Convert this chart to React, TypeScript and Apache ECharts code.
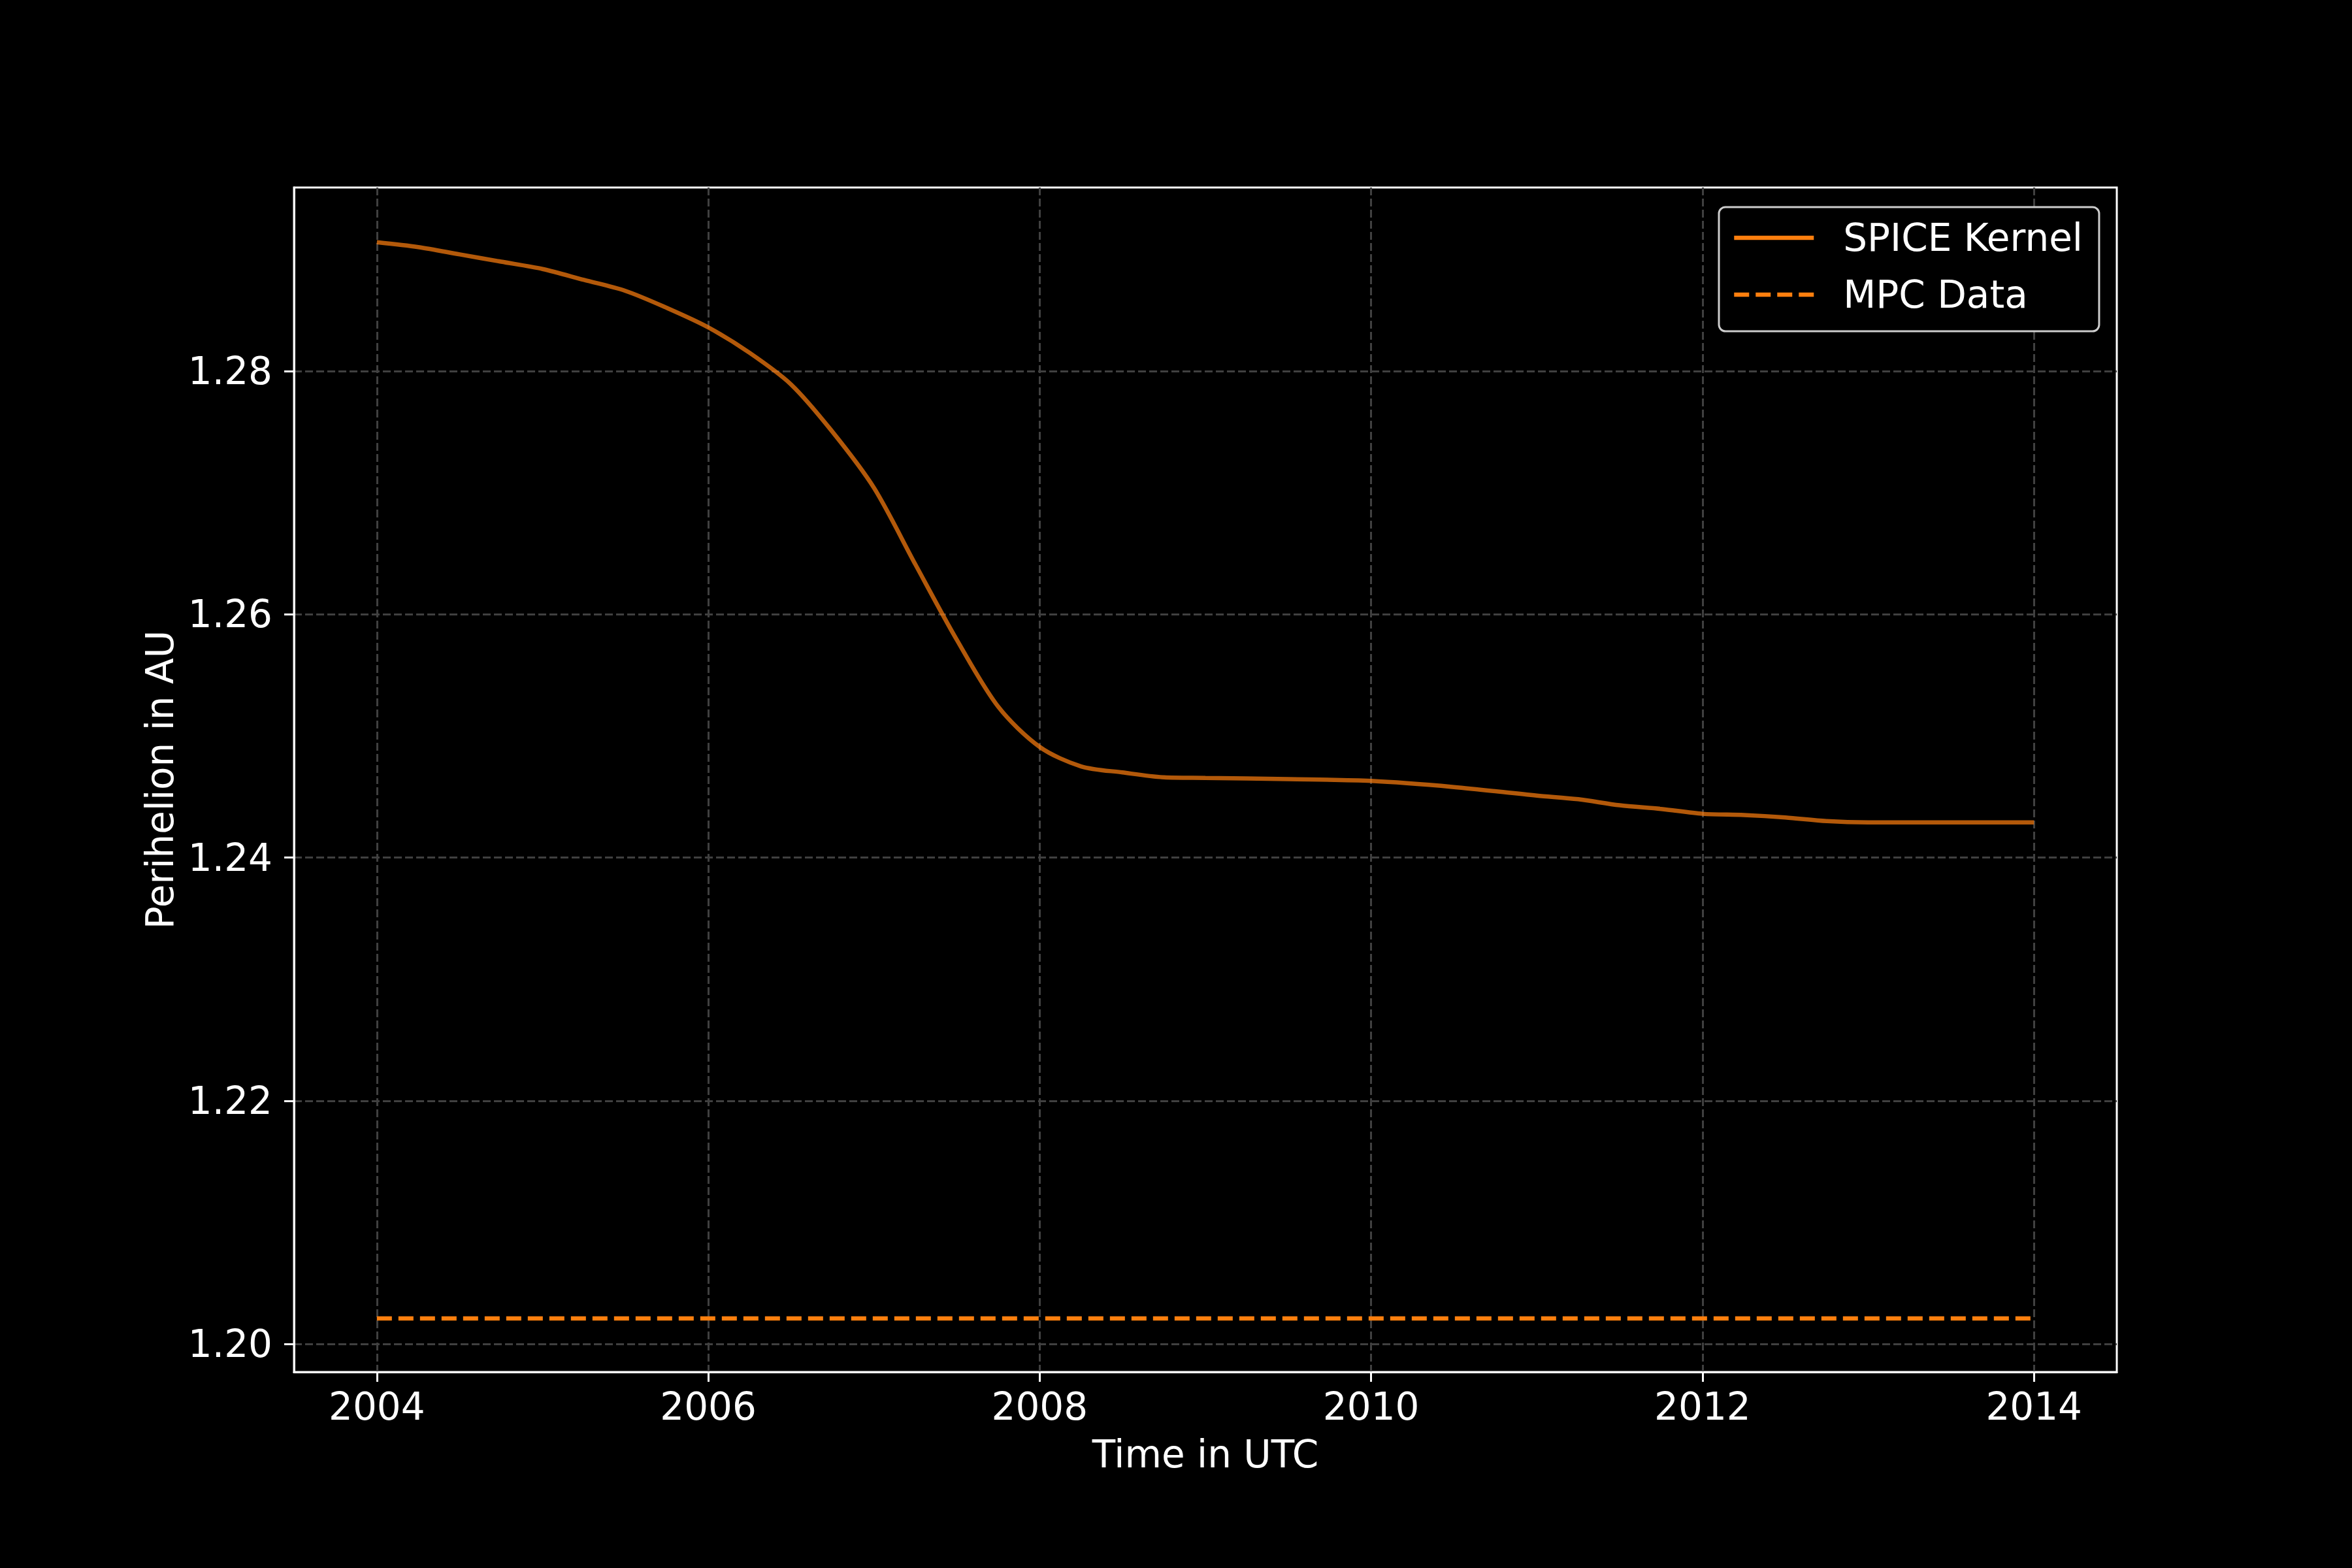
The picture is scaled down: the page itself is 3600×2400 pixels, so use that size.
import React, { useEffect, useRef } from "react";
import * as echarts from "echarts";

const spiceYears = [
  2004.0, 2004.25, 2004.5, 2004.75, 2005.0, 2005.25, 2005.5, 2005.75, 2006.0, 2006.25,
  2006.5, 2006.75, 2007.0, 2007.25, 2007.5, 2007.75, 2008.0, 2008.25, 2008.5, 2008.75,
  2009.0, 2009.5, 2010.0, 2010.5, 2011.0, 2011.25, 2011.5, 2011.75, 2012.0, 2012.25,
  2012.5, 2012.75, 2013.0, 2013.5, 2014.0,
];
const spiceValues = [
  1.2906, 1.2902, 1.2896, 1.2890, 1.2884, 1.2875, 1.2866, 1.2852, 1.2836, 1.2815,
  1.2789, 1.2750, 1.2704, 1.2641, 1.2579, 1.2524, 1.2491, 1.2475, 1.2470, 1.2466,
  1.24655, 1.24645, 1.2463, 1.2458, 1.2451, 1.2448, 1.2443, 1.2440, 1.2436, 1.2435,
  1.2433, 1.2430, 1.2429, 1.2429, 1.2429,
];
const mpcYears = [2004.0, 2014.0];
const mpcValues = [1.2021, 1.2021];

const xTicks = [2004, 2006, 2008, 2010, 2012, 2014];
const yTicks = [1.2, 1.22, 1.24, 1.26, 1.28];

const FONT = "DejaVu Sans";
const FS = 58;
const ORANGE = "#ff7f0e";

export default function App() {
  const ref = useRef<HTMLDivElement>(null);
  useEffect(() => {
    if (!ref.current) return;
    const chart = echarts.init(ref.current, null, { renderer: "svg" });
    const gridLine = { show: true, lineStyle: { color: "#404040", width: 3, type: [12, 5] } };
    chart.setOption({
      animation: false,
      backgroundColor: "#000000",
      textStyle: { fontFamily: FONT },
      grid: {
        left: 450,
        right: 360,
        top: 287,
        bottom: 300,
        show: true,
        borderColor: "#ffffff",
        borderWidth: 3,
        backgroundColor: "#000000",
      },
      legend: {
        left: 2631,
        top: 317,
        orient: "vertical",
        itemWidth: 122,
        itemHeight: 30,
        itemGap: 29,
        padding: [18, 25, 27, 20],
        backgroundColor: "#000000",
        borderColor: "#cccccc",
        borderWidth: 3,
        borderRadius: 10,
        itemStyle: { opacity: 0 },
        lineStyle: { opacity: 1, width: 6.5, color: ORANGE },
        textStyle: {
          color: "#ffffff",
          fontFamily: FONT,
          fontSize: FS,
          lineHeight: FS,
          padding: [0, 0, 0, 40],
        },
        data: [
          { name: "SPICE Kernel", itemStyle: { opacity: 0 }, lineStyle: { opacity: 1, width: 6.5, color: ORANGE, type: "solid" } },
          { name: "MPC Data", itemStyle: { opacity: 0 }, lineStyle: { opacity: 1, width: 6.5, color: ORANGE, type: [23, 10] } },
        ],
      },
      xAxis: {
        type: "value",
        min: 2003.5,
        max: 2014.5,
        name: "Time in UTC",
        nameLocation: "middle",
        nameGap: 97,
        nameTextStyle: { color: "#ffffff", fontFamily: FONT, fontSize: FS, lineHeight: FS },
        axisLine: { show: true, lineStyle: { color: "#ffffff", width: 3 } },
        axisTick: {
          show: true,
          length: 15,
          lineStyle: { color: "#ffffff", width: 3 },
          customValues: xTicks,
        },
        axisLabel: {
          color: "#ffffff",
          fontFamily: FONT,
          fontSize: FS,
          lineHeight: FS,
          margin: 24,
          customValues: xTicks,
          formatter: (v: number) => String(Math.round(v)),
        },
        splitLine: gridLine,
      },
      yAxis: {
        type: "value",
        min: 1.1977,
        max: 1.2951,
        name: "Perihelion in AU",
        nameLocation: "middle",
        nameGap: 176,
        nameTextStyle: { color: "#ffffff", fontFamily: FONT, fontSize: FS, lineHeight: FS },
        axisLine: { show: true, lineStyle: { color: "#ffffff", width: 3 } },
        axisTick: {
          show: true,
          length: 15,
          lineStyle: { color: "#ffffff", width: 3 },
          customValues: yTicks,
        },
        axisLabel: {
          color: "#ffffff",
          fontFamily: FONT,
          fontSize: FS,
          lineHeight: FS,
          margin: 33,
          customValues: yTicks,
          formatter: (v: number) => v.toFixed(2),
        },
        splitLine: gridLine,
      },
      series: [
        {
          name: "SPICE Kernel",
          type: "line",
          data: spiceYears.map((y, i) => [y, spiceValues[i]]),
          showSymbol: false,
          symbol: "none",
          smooth: 0.3,
          lineStyle: { color: ORANGE, width: 6.5, opacity: 0.7 },
          itemStyle: { color: ORANGE },
          z: 3,
        },
        {
          name: "MPC Data",
          type: "line",
          data: mpcYears.map((y, i) => [y, mpcValues[i]]),
          showSymbol: false,
          symbol: "none",
          lineStyle: { color: ORANGE, width: 6.5, type: [23, 10] },
          itemStyle: { color: ORANGE },
          z: 3,
        },
      ],
    });
    return () => chart.dispose();
  }, []);
  return (
    <div
      ref={ref}
      style={{ position: "fixed", left: 0, top: 0, width: 3600, height: 2400, background: "#000" }}
    />
  );
}
